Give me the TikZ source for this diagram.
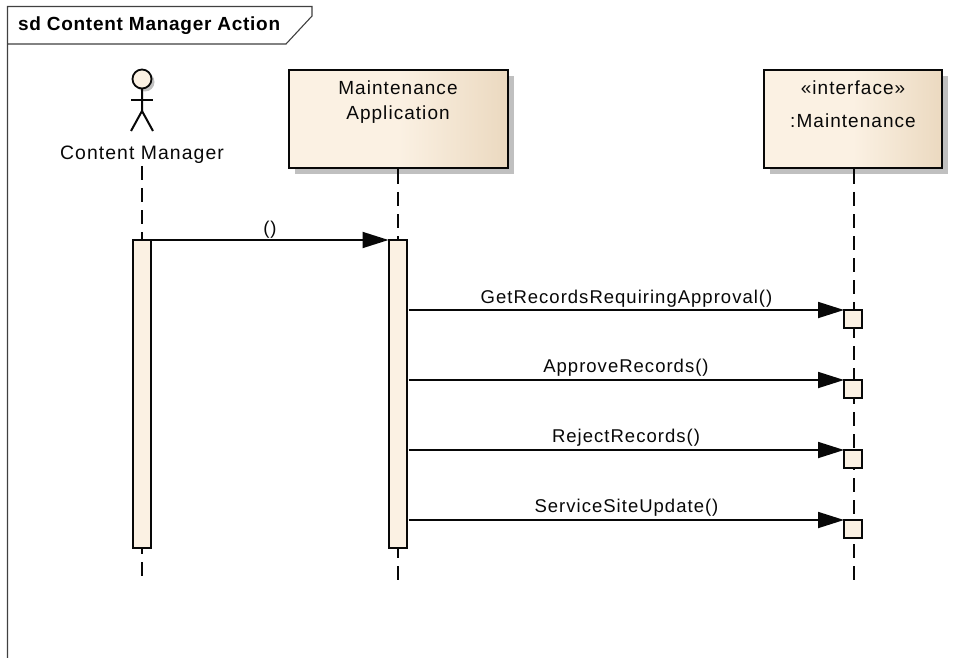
\documentclass[tikz,border=0pt]{standalone}
\usepackage{fontspec}
\setmainfont{Liberation Sans}
\newfontfamily\lblfont[LetterSpace=5.5]{Liberation Sans}
\newfontfamily\ttlfont[LetterSpace=3.8]{Liberation Sans Bold}
\usetikzlibrary{arrows.meta,shadows,fadings}
\definecolor{eafill}{HTML}{FBF1E3}
\definecolor{eaend}{HTML}{EBD9C0}
\definecolor{eashadow}{HTML}{C0C0C0}
\definecolor{ealine}{HTML}{080808}
\tikzset{
  x=1pt,y=-1pt,
  every node/.style={inner sep=0pt,outer sep=0pt},
  lbl/.style={font=\lblfont\fontsize{19}{24}\selectfont,text=ealine},
  msg/.style={font=\lblfont\fontsize{18.5}{22}\selectfont,text=ealine},
  ttl/.style={font=\ttlfont\fontsize{19}{24}\selectfont,text=black},
  framel/.style={draw=black!75,line width=1.1pt},
  lifebox/.style={draw=ealine,line width=2pt,minimum height=98pt,
     left color=eafill,right color=eaend,middle color=eafill,anchor=north west},
  shadowbox/.style={fill=eashadow,draw=none,minimum height=98pt,anchor=north west},
  actbar/.style={draw=ealine,line width=2pt,fill=eafill,minimum width=18pt,anchor=north west},
  life/.style={draw=ealine,line width=2pt,dash pattern=on 14pt off 8pt},
  stub/.style={draw=ealine,line width=2pt},
  call/.style={draw=ealine,line width=1.8pt,-{Triangle[length=26pt,width=16pt]}},
}
\begin{document}
\begin{tikzpicture}
\useasboundingbox (0,0) rectangle (975,658);
\fill[white] (0,0) rectangle (975,658);
% frame
\draw[framel] (7.5,658) -- (7.5,6.5) -- (312,6.5) -- (312,16) -- (286,44) -- (7.5,44);
\node[ttl,anchor=base west] (title) at (18,31) {sd Content Manager Action};
% actor
\fill[eashadow] (145,82) circle (9.5);
\node[draw=ealine,line width=1.8pt,fill=eafill,circle,minimum size=19pt] (head) at (142,79) {};
\coordinate (hip) at (142,111);
\draw[stub] (head.south) -- (hip) -- (131,131);
\draw[stub] (hip) -- (153,131);
\draw[stub] (131,100) -- (153,100);
\node[lbl,anchor=base,font=\lblfont\fontsize{19.4}{24}\selectfont] (actorname) at (142,160) {Content Manager};
% lifeline boxes
\node[shadowbox,minimum width=219pt] at (295,76) {};
\node[shadowbox,minimum width=178pt] at (770,76) {};
\node[lifebox,minimum width=219pt] (m) at (288.5,70) {};
\node[lifebox,minimum width=178pt] (i) at (764,70) {};
\node[lbl,anchor=base] (mt1) at (398,95) {Maintenance};
\node[lbl,anchor=base] (mt2) at (398,120) {Application};
\node[lbl,anchor=base] (it1) at (853,95) {«interface»};
\node[lbl,anchor=base] (it2) at (853,128) {:Maintenance};
% lifelines
\coordinate (aend) at (142,576);
\coordinate (mend) at (398,580);
\coordinate (iend) at (854,580);
\coordinate (astart) at (142,166);
\draw[life] (astart) -- (aend);
\draw[stub] (m.south -| mend) -- +(0,3);
\draw[stub] (i.south -| iend) -- +(0,3);
\draw[life] ([yshift=-2pt]m.south -| mend) -- (mend);
\draw[life] ([yshift=-2pt]i.south -| iend) -- (iend);
% activations
\node[actbar,minimum height=308pt] (a1) at (132.5,240) {};
\node[actbar,minimum height=308pt] (a2) at (388.5,240) {};
\node[actbar,minimum height=18pt] (s1) at (844,310) {};
\node[actbar,minimum height=18pt] (s2) at (844,380) {};
\node[actbar,minimum height=18pt] (s3) at (844,450) {};
\node[actbar,minimum height=18pt] (s4) at (844,520) {};
% messages
\draw[call] (a1.north east) -- (a2.north west);
\draw[call,shorten <=2pt] (a2.east |- s1.north west) -- (s1.north west);
\draw[call,shorten <=2pt] (a2.east |- s2.north west) -- (s2.north west);
\draw[call,shorten <=2pt] (a2.east |- s3.north west) -- (s3.north west);
\draw[call,shorten <=2pt] (a2.east |- s4.north west) -- (s4.north west);
\node[msg,anchor=base] (l0) at (270,234) {()};
\node[msg,anchor=base] (l1) at (626.5,303) {GetRecordsRequiringApproval()};
\node[msg,anchor=base] (l2) at (626,372) {ApproveRecords()};
\node[msg,anchor=base] (l3) at (626,442) {RejectRecords()};
\node[msg,anchor=base] (l4) at (626.5,512) {ServiceSiteUpdate()};
\end{tikzpicture}
\end{document}
